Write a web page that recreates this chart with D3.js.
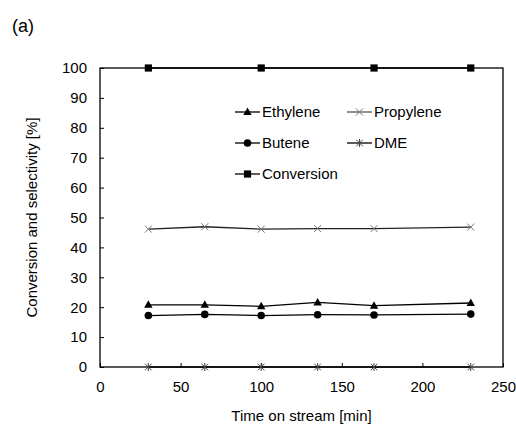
<!DOCTYPE html>
<html>
<head>
<meta charset="utf-8">
<script src="https://cdn.jsdelivr.net/npm/d3@7"></script>
<style>
  body { margin: 0; background: #fff; }
  svg text { font-family: "Liberation Sans", Arial, sans-serif; fill: #000; }
</style>
</head>
<body>
<div id="chart"></div>
<script>
const times = [30, 65, 100, 135, 170, 230];
const conversionTimes = [30, 100, 170, 230];

const ethylene = [20.8, 20.8, 20.3, 21.6, 20.5, 21.4];
const propylene = [46.1, 46.9, 46.1, 46.3, 46.3, 46.8];
const butene = [17.2, 17.6, 17.2, 17.5, 17.4, 17.7];
const dme = [0, 0, 0, 0, 0, 0];
const conversion = [100, 100, 100, 100];

const xTicks = [0, 50, 100, 150, 200, 250];
const yTicks = [0, 10, 20, 30, 40, 50, 60, 70, 80, 90, 100];

const width = 516;
const height = 424;
const margin = { left: 100, right: 13, top: 68, bottom: 57 };

const svg = d3
  .select("#chart")
  .append("svg")
  .attr("width", width)
  .attr("height", height);

const x = d3
  .scaleLinear()
  .domain([0, 250])
  .range([margin.left, width - margin.right]);
const y = d3
  .scaleLinear()
  .domain([0, 100])
  .range([height - margin.bottom, margin.top]);

// frame
svg
  .append("rect")
  .attr("x", x(0))
  .attr("y", y(100))
  .attr("width", x(250) - x(0))
  .attr("height", y(0) - y(100))
  .attr("fill", "none")
  .attr("stroke", "#000")
  .attr("stroke-width", 1.3);

// axes with inside ticks
const xAxis = svg
  .append("g")
  .attr("transform", `translate(0,${y(0)})`)
  .call(d3.axisBottom(x).tickValues(xTicks).tickSize(-4).tickPadding(14));
const yAxis = svg
  .append("g")
  .attr("transform", `translate(${x(0)},0)`)
  .call(d3.axisLeft(y).tickValues(yTicks).tickSize(-4).tickPadding(13));

[xAxis, yAxis].forEach((g) => {
  g.select(".domain").remove();
  g.selectAll("line").attr("stroke", "#000").attr("stroke-width", 1);
  g.selectAll("text")
    .attr("font-size", 15)
    .attr("font-family", '"Liberation Sans", Arial, sans-serif')
    .attr("fill", "#000");
});
xAxis.selectAll("text").attr("dy", "0.71em");

// titles
svg
  .append("text")
  .attr("x", (x(0) + x(250)) / 2)
  .attr("y", 421)
  .attr("text-anchor", "middle")
  .attr("font-size", 15)
  .text("Time on stream [min]");

svg
  .append("text")
  .attr("transform", `translate(37,${(y(0) + y(100)) / 2}) rotate(-90)`)
  .attr("text-anchor", "middle")
  .attr("font-size", 15)
  .text("Conversion and selectivity [%]");

svg
  .append("text")
  .attr("x", 12)
  .attr("y", 32)
  .attr("font-size", 18)
  .text("(a)");

// marker drawers
const drawMarker = (g, type, cx, cy) => {
  if (type === "triangle") {
    g.append("path")
      .attr("d", `M${cx},${cy - 4.5}L${cx + 4.2},${cy + 3}L${cx - 4.2},${cy + 3}Z`)
      .attr("fill", "#000");
  } else if (type === "circle") {
    g.append("circle").attr("cx", cx).attr("cy", cy).attr("r", 3.8).attr("fill", "#000");
  } else if (type === "square") {
    g.append("rect")
      .attr("x", cx - 3.6)
      .attr("y", cy - 3.6)
      .attr("width", 7.2)
      .attr("height", 7.2)
      .attr("fill", "#000");
  } else if (type === "cross") {
    g.append("path")
      .attr("d", `M${cx - 3.5},${cy - 3.5}L${cx + 3.5},${cy + 3.5}M${cx - 3.5},${cy + 3.5}L${cx + 3.5},${cy - 3.5}`)
      .attr("stroke", "#777")
      .attr("stroke-width", 1);
  } else if (type === "star") {
    g.append("path")
      .attr(
        "d",
        `M${cx - 3.3},${cy - 3.3}L${cx + 3.3},${cy + 3.3}M${cx - 3.3},${cy + 3.3}L${cx + 3.3},${cy - 3.3}M${cx},${cy - 4}L${cx},${cy + 4}`
      )
      .attr("stroke", "#444")
      .attr("stroke-width", 1);
  }
};

const series = [
  { name: "Ethylene", xs: times, ys: ethylene, marker: "triangle", stroke: "#000" },
  { name: "Propylene", xs: times, ys: propylene, marker: "cross", stroke: "#222" },
  { name: "Butene", xs: times, ys: butene, marker: "circle", stroke: "#000" },
  { name: "DME", xs: times, ys: dme, marker: "star", stroke: "#000" },
  { name: "Conversion", xs: conversionTimes, ys: conversion, marker: "square", stroke: "#000" },
];

const line = d3
  .line()
  .x((d) => x(d[0]))
  .y((d) => y(d[1]));

series.forEach((s) => {
  const pts = s.xs.map((t, i) => [t, s.ys[i]]);
  const g = svg.append("g");
  g.append("path")
    .attr("d", line(pts))
    .attr("fill", "none")
    .attr("stroke", s.stroke)
    .attr("stroke-width", 1.3);
  pts.forEach((p) => drawMarker(g, s.marker, x(p[0]), y(p[1])));
});

// legend
const legendPos = [
  [235, 112],
  [347, 112],
  [235, 143],
  [347, 143],
  [235, 174],
];
series.forEach((s, i) => {
  const [lx, ly] = legendPos[i];
  const g = svg.append("g");
  g.append("line")
    .attr("x1", lx)
    .attr("x2", lx + 25)
    .attr("y1", ly)
    .attr("y2", ly)
    .attr("stroke", s.marker === "cross" ? "#555" : "#000")
    .attr("stroke-width", 1.3);
  drawMarker(g, s.marker, lx + 12.5, ly);
  g.append("text")
    .attr("x", lx + 27)
    .attr("y", ly)
    .attr("dy", "0.36em")
    .attr("font-size", 15)
    .text(s.name);
});
</script>
</body>
</html>
